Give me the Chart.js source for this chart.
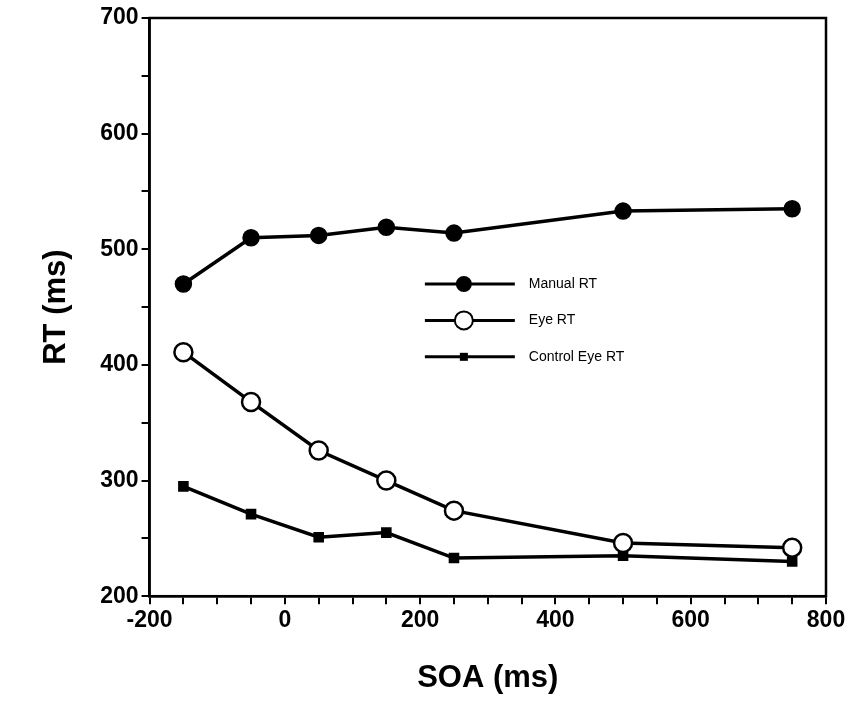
<!DOCTYPE html>
<html><head><script src="https://cdn.jsdelivr.net/npm/chart.js@4"></script>
<style>body{margin:0;background:#fff}#wrap{width:859px;height:725px}</style></head>
<body><div id="wrap"><canvas id="c"></canvas></div>
<script>
const soa = [-150, -50, 50, 150, 250, 500, 750];
const manualRT = [470, 510, 512, 519, 514, 533, 535];
const eyeRT = [411, 368, 326, 300, 274, 246, 242];
const controlEyeRT = [295, 271, 251, 255, 233, 235, 230];
const seriesNames = ["Manual RT", "Eye RT", "Control Eye RT"];

const pts = arr => arr.map((v, i) => ({ x: soa[i], y: v }));

const frame = {
    id: "frame",
    afterDraw(chart) {
        const { ctx, chartArea: a } = chart;
        ctx.save();
        ctx.strokeStyle = "#000";
        ctx.lineWidth = 2.5;
        ctx.strokeRect(a.left, a.top, a.right - a.left, a.bottom - a.top);
        // legend
        const x0 = chart.scales.x.getPixelForValue(207), x1 = chart.scales.x.getPixelForValue(340);
        chart.data.datasets.forEach((ds, i) => {
            const y = chart.scales.y.getPixelForValue(470 - i * 31.5);
            ctx.lineWidth = 3;
            ctx.beginPath(); ctx.moveTo(x0, y); ctx.lineTo(x1, y); ctx.stroke();
            const mx = (x0 + x1) / 2 - 6;
            ctx.beginPath();
            if (ds.pointStyle === "rect") {
                ctx.fillStyle = "#000"; ctx.fillRect(mx - 4, y - 4, 8, 8);
            } else {
                ctx.arc(mx, y, ds.pointRadius, 0, Math.PI * 2);
                ctx.fillStyle = ds.pointBackgroundColor; ctx.fill();
                ctx.lineWidth = 2; ctx.stroke();
            }
            ctx.fillStyle = "#000";
            ctx.font = "14px 'Liberation Sans', Arial";
            ctx.textBaseline = "middle";
            ctx.fillText(ds.label, x1 + 14, y);
        });
        ctx.restore();
    }
};

new Chart(document.getElementById("c"), {
    type: "line",
    data: {
        datasets: [
            { label: seriesNames[0], data: pts(manualRT), borderColor: "#000", borderWidth: 3.5,
              pointRadius: 7, pointBackgroundColor: "#000", pointBorderColor: "#000" },
            { label: seriesNames[1], data: pts(eyeRT), borderColor: "#000", borderWidth: 3.5,
              pointRadius: 9, pointBackgroundColor: "#fff", pointBorderColor: "#000", pointBorderWidth: 2.5 },
            { label: seriesNames[2], data: pts(controlEyeRT), borderColor: "#000", borderWidth: 3.5,
              pointStyle: "rect", pointRadius: 5, pointBackgroundColor: "#000", pointBorderColor: "#000" }
        ]
    },
    options: {
        responsive: true, maintainAspectRatio: false, animation: false,
        layout: { padding: { top: 18, right: 33, left: 34, bottom: 24 } },
        plugins: { legend: { display: false }, tooltip: { enabled: false } },
        scales: {
            x: {
                type: "linear", min: -200, max: 800,
                border: { color: "#000", width: 2.5 },
                grid: { drawOnChartArea: false, tickLength: 8, color: "#000", lineWidth: 2 },
                ticks: { stepSize: 50, autoSkip: false, color: "#000", maxRotation: 0,
                    font: { family: "'Liberation Sans', Arial", size: 23, weight: "bold" },
                    callback: v => v % 200 === 0 ? v : "" },
                title: { display: true, text: "SOA (ms)", color: "#000", padding: { top: 22 },
                    font: { family: "'Liberation Sans', Arial", size: 31, weight: "bold" } }
            },
            y: {
                min: 200, max: 700,
                border: { color: "#000", width: 2.5 },
                grid: { drawOnChartArea: false, tickLength: 8, color: "#000", lineWidth: 2 },
                ticks: { stepSize: 50, autoSkip: false, color: "#000",
                    font: { family: "'Liberation Sans', Arial", size: 23, weight: "bold" },
                    callback: v => v % 100 === 0 ? v : "" },
                title: { display: true, text: "RT (ms)", color: "#000", padding: { bottom: 22 },
                    font: { family: "'Liberation Sans', Arial", size: 31, weight: "bold" } }
            }
        }
    },
    plugins: [frame]
});
</script></body></html>
